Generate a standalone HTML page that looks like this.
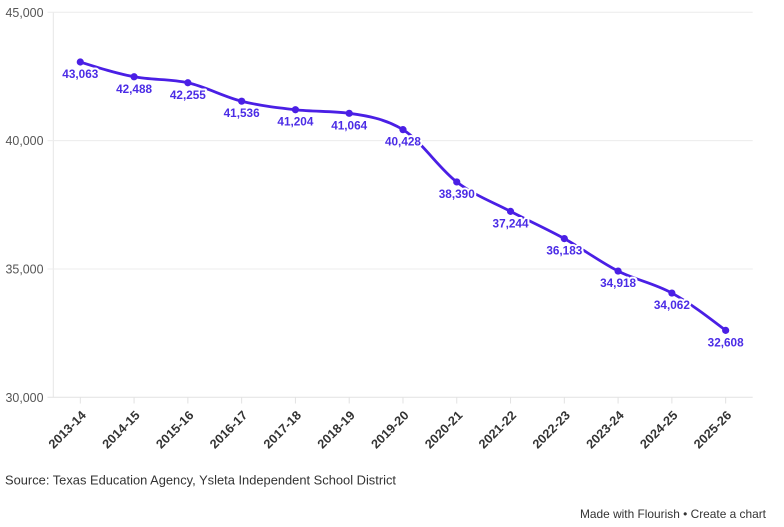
<!DOCTYPE html>
<html>
<head>
<meta charset="utf-8">
<style>
  html, body { margin: 0; padding: 0; background: #ffffff; }
  body { width: 784px; height: 527px; overflow: hidden; font-family: "Liberation Sans", sans-serif; }
  svg { display: block; }
</style>
</head>
<body>
<svg id="chart" width="784" height="527" viewBox="0 0 784 527" xmlns="http://www.w3.org/2000/svg">
  <g id="grid"></g>
  <g id="yaxis"></g>
  <g id="xaxis"></g>
  <path id="line" fill="none" stroke="#4a1fe5" stroke-width="2.8" stroke-linejoin="round" stroke-linecap="round"/>
  <g id="dots"></g>
  <g id="labels"></g>
  <text x="5" y="484.5" font-family="Liberation Sans, sans-serif" font-size="13" fill="#333" textLength="391" lengthAdjust="spacingAndGlyphs">Source: Texas Education Agency, Ysleta Independent School District</text>
  <text x="580" y="518" font-family="Liberation Sans, sans-serif" font-size="12" fill="#333" textLength="186" lengthAdjust="spacingAndGlyphs">Made with Flourish • Create a chart</text>
</svg>
<script>
(function(){
  var NS = "http://www.w3.org/2000/svg";
  var cats = ["2013-14","2014-15","2015-16","2016-17","2017-18","2018-19","2019-20","2020-21","2021-22","2022-23","2023-24","2024-25","2025-26"];
  var vals = [43063,42488,42255,41536,41204,41064,40428,38390,37244,36183,34918,34062,32608];
  var x0 = 80.3, step = 53.78;
  var yBase = 397.3, k = 385/15000;
  function X(i){ return x0 + i*step; }
  function Y(v){ return yBase - (v-30000)*k; }
  function el(tag, attrs, parent, text){
    var e = document.createElementNS(NS, tag);
    for (var a in attrs) e.setAttribute(a, attrs[a]);
    if (text !== undefined) e.textContent = text;
    parent.appendChild(e);
    return e;
  }
  var grid = document.getElementById("grid");
  var yaxis = document.getElementById("yaxis");
  var xaxis = document.getElementById("xaxis");
  // vertical axis line
  el("line",{x1:53.3,y1:12.3,x2:53.3,y2:397.3,stroke:"#e6e6e6","stroke-width":1},grid);
  [45000,40000,35000,30000].forEach(function(v){
    var y = Y(v);
    el("line",{x1:47.5,y1:y,x2:752.7,y2:y,stroke:(v===30000?"#e2e2e2":"#ececec"),"stroke-width":1},grid);
    el("text",{x:43.5,y:y+4.5,"text-anchor":"end","font-family":"Liberation Sans, sans-serif","font-size":"12.5",fill:"#555",textLength:"38",lengthAdjust:"spacingAndGlyphs"},yaxis,v.toLocaleString("en-US"));
  });
  cats.forEach(function(c,i){
    var x = X(i);
    el("line",{x1:x,y1:397.3,x2:x,y2:403.5,stroke:"#e2e2e2","stroke-width":1},xaxis);
    el("text",{transform:"translate("+(x+6.5)+",416) rotate(-45)","text-anchor":"end","font-family":"Liberation Sans, sans-serif","font-size":"12.5","font-weight":"bold",fill:"#333",textLength:"47",lengthAdjust:"spacingAndGlyphs"},xaxis,c);
  });
  // monotoneX path
  var pts = vals.map(function(v,i){ return [X(i), Y(v)]; });
  var n = pts.length;
  function sign(x){ return x < 0 ? -1 : 1; }
  var t = new Array(n);
  for (var i=1;i<n-1;i++){
    var h0 = pts[i][0]-pts[i-1][0], h1 = pts[i+1][0]-pts[i][0];
    var s0 = (pts[i][1]-pts[i-1][1])/h0, s1 = (pts[i+1][1]-pts[i][1])/h1;
    var p = (s0*h1 + s1*h0)/(h0+h1);
    t[i] = (sign(s0)+sign(s1)) * Math.min(Math.abs(s0), Math.abs(s1), 0.5*Math.abs(p)) || 0;
  }
  var hA = pts[1][0]-pts[0][0];
  t[0] = (3*(pts[1][1]-pts[0][1])/hA - t[1])/2;
  var hB = pts[n-1][0]-pts[n-2][0];
  t[n-1] = (3*(pts[n-1][1]-pts[n-2][1])/hB - t[n-2])/2;
  var d = "M"+pts[0][0].toFixed(2)+","+pts[0][1].toFixed(2);
  for (var j=0;j<n-1;j++){
    var dx = (pts[j+1][0]-pts[j][0])/3;
    d += "C"+(pts[j][0]+dx).toFixed(2)+","+(pts[j][1]+dx*t[j]).toFixed(2)+","+(pts[j+1][0]-dx).toFixed(2)+","+(pts[j+1][1]-dx*t[j+1]).toFixed(2)+","+pts[j+1][0].toFixed(2)+","+pts[j+1][1].toFixed(2);
  }
  document.getElementById("line").setAttribute("d", d);
  var dots = document.getElementById("dots");
  var labels = document.getElementById("labels");
  pts.forEach(function(p,i){
    el("circle",{cx:p[0],cy:p[1],r:3.6,fill:"#4a1fe5"},dots);
    var s = vals[i].toLocaleString("en-US");
    var attrs = {x:p[0],y:p[1]+16,"text-anchor":"middle","font-family":"Liberation Sans, sans-serif","font-size":"11.8","font-weight":"bold",textLength:"36",lengthAdjust:"spacingAndGlyphs"};
    var halo = {}; for (var a in attrs) halo[a]=attrs[a];
    halo.fill="#fff"; halo.stroke="#fff"; halo["stroke-width"]="4"; halo["stroke-linejoin"]="round";
    el("text",halo,labels,s);
    attrs.fill="#4b2ce6";
    el("text",attrs,labels,s);
  });
})();
</script>
</body>
</html>
